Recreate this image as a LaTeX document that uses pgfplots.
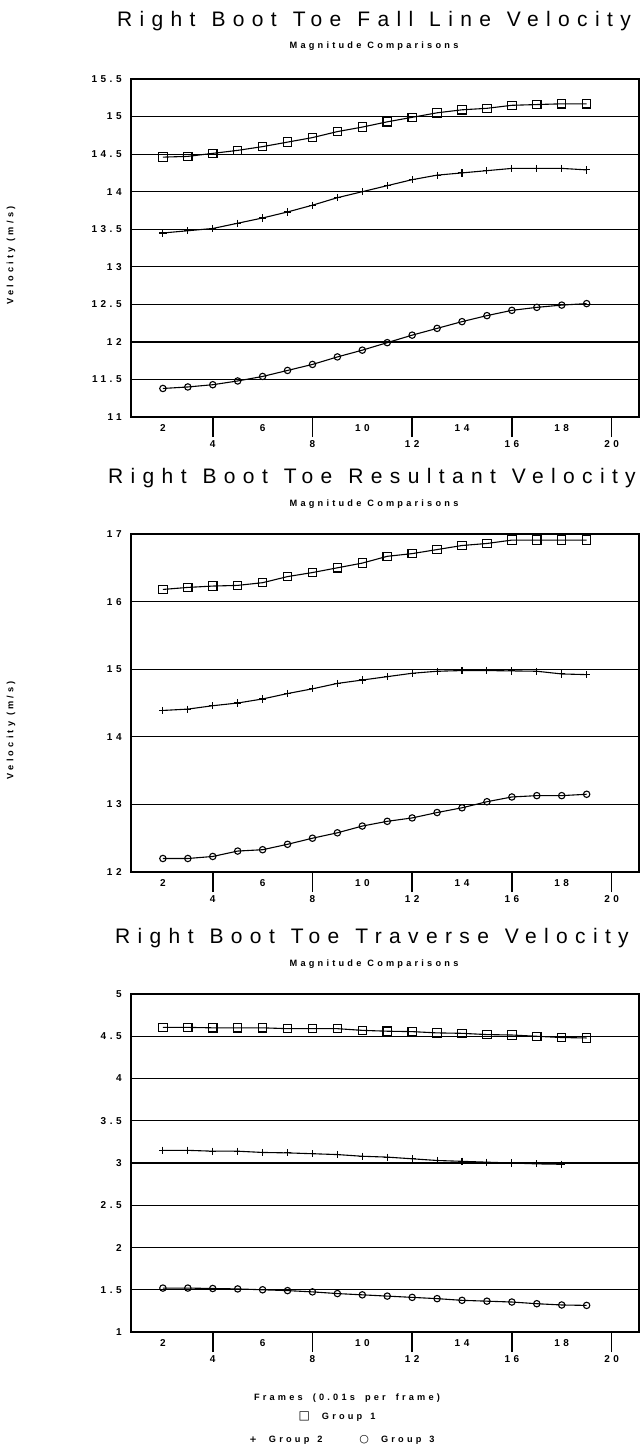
\documentclass[border=0pt]{standalone}
\usepackage{fontspec}
\setmainfont{Liberation Sans}
\newfontfamily\ttlfont[LetterSpace=35]{Liberation Sans}
\newfontfamily\smlfont[LetterSpace=35]{Liberation Sans}
\newfontfamily\symfont{DejaVu Sans}
\usepackage{pgfplots}
\usepackage{pgfplotstable}
\pgfplotsset{compat=1.18}
\newcommand\tickfont{\smlfont\bfseries\fontsize{5}{6}\selectfont}
\newcommand\subfont{\smlfont\bfseries\fontsize{4.6}{5.5}\selectfont}
\newcommand\titlefont{\ttlfont\fontsize{10.5}{12}\selectfont}
\newcommand\gap{\hspace{8pt}}

\pgfplotstableread{
x a b c
2 14.46 13.45 11.38
3 14.47 13.48 11.40
4 14.51 13.51 11.43
5 14.55 13.58 11.48
6 14.60 13.65 11.54
7 14.66 13.73 11.62
8 14.72 13.82 11.70
9 14.80 13.92 11.80
10 14.86 14.00 11.89
11 14.93 14.08 11.99
12 14.99 14.16 12.09
13 15.05 14.22 12.18
14 15.09 14.25 12.27
15 15.11 14.28 12.35
16 15.15 14.31 12.42
17 15.16 14.31 12.46
18 15.17 14.31 12.49
19 15.17 14.29 12.51
}\dataA

\pgfplotstableread{
x a b c
2 16.18 14.39 12.20
3 16.21 14.41 12.20
4 16.23 14.46 12.23
5 16.24 14.50 12.31
6 16.28 14.56 12.33
7 16.37 14.64 12.41
8 16.43 14.71 12.50
9 16.50 14.79 12.58
10 16.57 14.84 12.68
11 16.67 14.89 12.75
12 16.71 14.94 12.80
13 16.77 14.97 12.88
14 16.83 14.98 12.95
15 16.86 14.98 13.04
16 16.91 14.975 13.11
17 16.91 14.97 13.13
18 16.91 14.93 13.13
19 16.91 14.92 13.15
}\dataB

\pgfplotstableread{
x a b c
2 4.605 3.15 1.52
3 4.605 3.15 1.52
4 4.60 3.14 1.515
5 4.60 3.14 1.51
6 4.60 3.125 1.50
7 4.59 3.12 1.49
8 4.59 3.11 1.475
9 4.59 3.10 1.455
10 4.57 3.08 1.44
11 4.56 3.07 1.425
12 4.555 3.05 1.41
13 4.54 3.03 1.395
14 4.535 3.02 1.375
15 4.52 3.01 1.365
16 4.515 3.00 1.355
17 4.50 2.99 1.335
18 4.485 2.985 1.32
19 4.48 nan 1.315
}\dataC

\pgfplotsset{
  bootaxis/.style={
    scale only axis, width=254pt, height=169pt,
    anchor=south west,
    xmin=0.72, xmax=21.1,
    axis line style={black, line width=0.8pt},
    tick pos=left,
    xtick={2,6,10,14,18}, xticklabels={2,6,10,14,18},
    extra x ticks={4,8,12,16,20}, extra x tick labels={4,8,12,16,20},
    extra x tick style={major tick length=10pt, tick align=outside, xtick pos=bottom,
      tick style={black, line width=0.8pt},
      xticklabel style={yshift=2pt}},
    major tick length=0pt,
    xticklabel style={font=\tickfont, anchor=center, inner sep=0pt, yshift=-5.5pt},
    yticklabel style={font=\tickfont, anchor=east, inner sep=0pt, xshift=-4.5pt},
    ymajorgrids, grid style={black, line width=0.6pt},
    ylabel style={font=\subfont, anchor=center},
    clip=false,
  },
  g1/.style={black, line width=0.55pt, mark=square, mark size=2.1pt, mark options={solid, line width=0.55pt}},
  g2/.style={black, line width=0.55pt, mark=+, mark size=1.8pt, mark options={solid, line width=0.55pt}},
  g3/.style={black, line width=0.55pt, mark=o, mark size=1.6pt, mark options={solid, line width=0.55pt}},
}

\begin{document}
\begin{tikzpicture}
\useasboundingbox (0,0) rectangle (320pt,-724pt);

% ---------- Plot 1 ----------
\node[font=\titlefont] at (187pt,-10.5pt) {Right\gap Boot\gap Toe\gap Fall\gap Line\gap Velocity};
\node[font=\subfont] at (187pt,-23pt) {Magnitude\hspace{3pt}Comparisons};
\begin{axis}[bootaxis, at={(65.5pt,-208.5pt)},
  ymin=11, ymax=15.5,
  ytick={11,11.5,12,12.5,13,13.5,14,14.5,15,15.5},
  yticklabels={11,11.5,12,12.5,13,13.5,14,14.5,15,15.5},
  ylabel={Velocity (m/s)},
  ylabel style={at={(axis description cs:-0.236,0.478)}},
]
\addplot[g1] table[x=x,y=a]{\dataA};
\addplot[g2] table[x=x,y=b]{\dataA};
\addplot[g3] table[x=x,y=c]{\dataA};
\end{axis}

% ---------- Plot 2 ----------
\node[font=\titlefont] at (186pt,-239pt) {Right\gap Boot\gap Toe\gap Resultant\gap Velocity};
\node[font=\subfont] at (187pt,-252pt) {Magnitude\hspace{3pt}Comparisons};
\begin{axis}[bootaxis, at={(65.5pt,-436pt)},
  ymin=12, ymax=17,
  ytick={12,13,14,15,16,17},
  yticklabels={12,13,14,15,16,17},
  ylabel={Velocity (m/s)},
  ylabel style={at={(axis description cs:-0.236,0.42)}},
]
\addplot[g1] table[x=x,y=a]{\dataB};
\addplot[g2] table[x=x,y=b]{\dataB};
\addplot[g3] table[x=x,y=c]{\dataB};
\end{axis}

% ---------- Plot 3 ----------
\node[font=\titlefont] at (186pt,-469pt) {Right\gap Boot\gap Toe\gap Traverse\gap Velocity};
\node[font=\subfont] at (187pt,-482pt) {Magnitude\hspace{3pt}Comparisons};
\begin{axis}[bootaxis, at={(65.5pt,-666pt)},
  ymin=1, ymax=5,
  ytick={1,1.5,2,2.5,3,3.5,4,4.5,5},
  yticklabels={1,1.5,2,2.5,3,3.5,4,4.5,5},
]
\addplot[g1] table[x=x,y=a]{\dataC};
\addplot[g2] table[x=x,y=b]{\dataC};
\addplot[g3] table[x=x,y=c]{\dataC};
\end{axis}

% ---------- bottom label and legend ----------
\node[font=\subfont] at (173.5pt,-699pt) {Frames\hspace{5pt}(0.01s\hspace{5pt}per\hspace{5pt}frame)};
\node[font=\subfont] at (168.5pt,-708.5pt) {{\symfont\fontsize{6}{7}\selectfont □}\hspace{6pt}Group\hspace{4pt}1};
\node[font=\subfont] at (143pt,-720pt) {{\symfont\fontsize{4.5}{5}\selectfont +}\hspace{6pt}Group\hspace{4pt}2};
\node[font=\subfont] at (198.5pt,-720pt) {{\symfont\fontsize{5.5}{6}\selectfont ○}\hspace{6pt}Group\hspace{4pt}3};
\end{tikzpicture}
\end{document}
